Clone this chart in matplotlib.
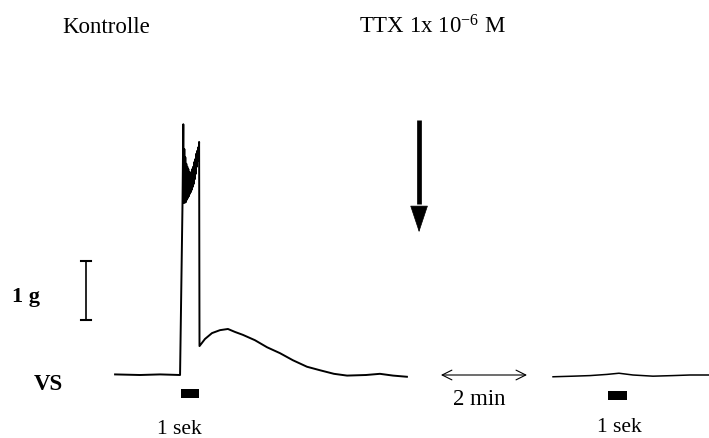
import matplotlib
matplotlib.use("Agg")
import matplotlib.pyplot as plt

plt.rcParams["font.family"] = ["Liberation Serif", "DejaVu Serif"]
plt.rcParams["mathtext.default"] = "regular"

# Kontrolle-Registrierung: Zeit (s, Reizbeginn = 0), Kraft (g, VS = 0)
t_ctrl = [-3.47, -2.16, -1.1, -0.05,
          0.079, 0.121, 0.147, 0.174, 0.2, 0.226, 0.253, 0.279, 0.305, 0.332,
          0.358, 0.384, 0.411, 0.437, 0.463, 0.489, 0.516, 0.542, 0.568, 0.595,
          0.621, 0.647, 0.674, 0.7, 0.726, 0.753, 0.779, 0.805, 0.832, 0.858,
          0.884, 0.911, 0.932, 0.953,
          0.974, 1.26, 1.63, 2.05, 2.47, 2.84, 3.26, 3.89, 4.53, 5.21, 5.89,
          6.63, 7.32, 8.05, 8.74, 9.74, 10.47, 11.16, 11.89]
g_ctrl = [0.01, 0.0, 0.01, 0.0,
          2.90, 4.25, 2.92, 3.83, 2.92, 3.69, 2.93, 3.58, 2.97, 3.53,
          3.00, 3.49, 3.03, 3.44, 3.07, 3.41, 3.10, 3.44, 3.14, 3.49,
          3.19, 3.53, 3.24, 3.61, 3.32, 3.66, 3.41, 3.75, 3.53, 3.80,
          3.63, 3.86, 3.75, 3.95,
          0.49, 0.61, 0.71, 0.76, 0.78, 0.73, 0.68, 0.59, 0.47, 0.37, 0.25,
          0.14, 0.08, 0.02, -0.01, 0.0, 0.02, -0.01, -0.03]

# nach TTX (2 min spaeter)
t_ttx = [19.58, 20.63, 21.53, 22.42, 23.05, 23.79, 24.84, 25.89, 26.79, 27.79]
g_ttx = [-0.03, -0.02, -0.01, 0.01, 0.03, 0.0, -0.02, -0.01, 0.0, 0.0]

# Reizmarken (1 sek)
stim_start = [0.0, 22.47]
stim_len = [0.95, 1.0]
stim_bottom = [-0.39, -0.43]
stim_height = [0.15, 0.16]

# Eichbalken 1 g
cal_t = -5.0
cal_lo, cal_hi = 0.93, 1.93

# TTX-Zugabe und Pause
ttx_t, ttx_from, ttx_head, ttx_to = 12.53, 4.32, 2.85, 2.42
gap_from, gap_to = 13.68, 18.21

W, H = 709, 439
fig = plt.figure(figsize=(W / 100, H / 100), dpi=100)
ax = fig.add_axes([0, 0, 1, 1])
ax.set_xlim(-181 / 19, 528 / 19)
ax.set_ylim(-63 / 59, 376 / 59)
ax.axis("off")

ax.plot(t_ctrl, g_ctrl, color="black", lw=1.4)
ax.plot(t_ttx, g_ttx, color="black", lw=1.1)

ax.bar(stim_start, stim_height, width=stim_len, bottom=stim_bottom,
       align="edge", color="black")

ax.plot([cal_t, cal_t], [cal_lo, cal_hi], color="black", lw=1.2)
ax.plot([cal_t - 0.27, cal_t + 0.27], [cal_lo, cal_lo], color="black", lw=1.5)
ax.plot([cal_t - 0.27, cal_t + 0.27], [cal_hi, cal_hi], color="black", lw=1.5)

# Pfeil: Schaft + spitze Dreieckspitze
ax.plot([ttx_t, ttx_t], [ttx_from, ttx_head + 0.05], color="black", lw=3.4,
        solid_capstyle="butt")
ax.annotate("", xy=(ttx_t, ttx_to), xytext=(ttx_t, ttx_head),
            arrowprops=dict(arrowstyle="-|>,head_length=1.8,head_width=0.6",
                            lw=0.5, color="black", mutation_scale=10,
                            shrinkA=0, shrinkB=0))
ax.annotate("", xy=(gap_to, 0), xytext=(gap_from, 0),
            arrowprops=dict(arrowstyle="<->,head_length=0.7,head_width=0.35",
                            lw=0.8, color="black", mutation_scale=10,
                            shrinkA=0, shrinkB=0))


def label(x, y, s, **kw):
    fig.text(x / W, 1 - y / H, s, va="baseline", ha="left", **kw)


label(62, 33, "Kontrolle", fontsize=16.5)
label(359, 33, "TTX 1x 10$^{-6}$ M", fontsize=16.5)
label(12, 302, "1 g", fontsize=16, fontweight="bold")
label(34, 390, "VS", fontsize=16.5, fontweight="bold")
label(157, 434, "1 sek", fontsize=15.5)
label(597, 432, "1 sek", fontsize=15.5)
label(453, 405, "2 min", fontsize=16.5)

fig.savefig("out.png", dpi=100)
